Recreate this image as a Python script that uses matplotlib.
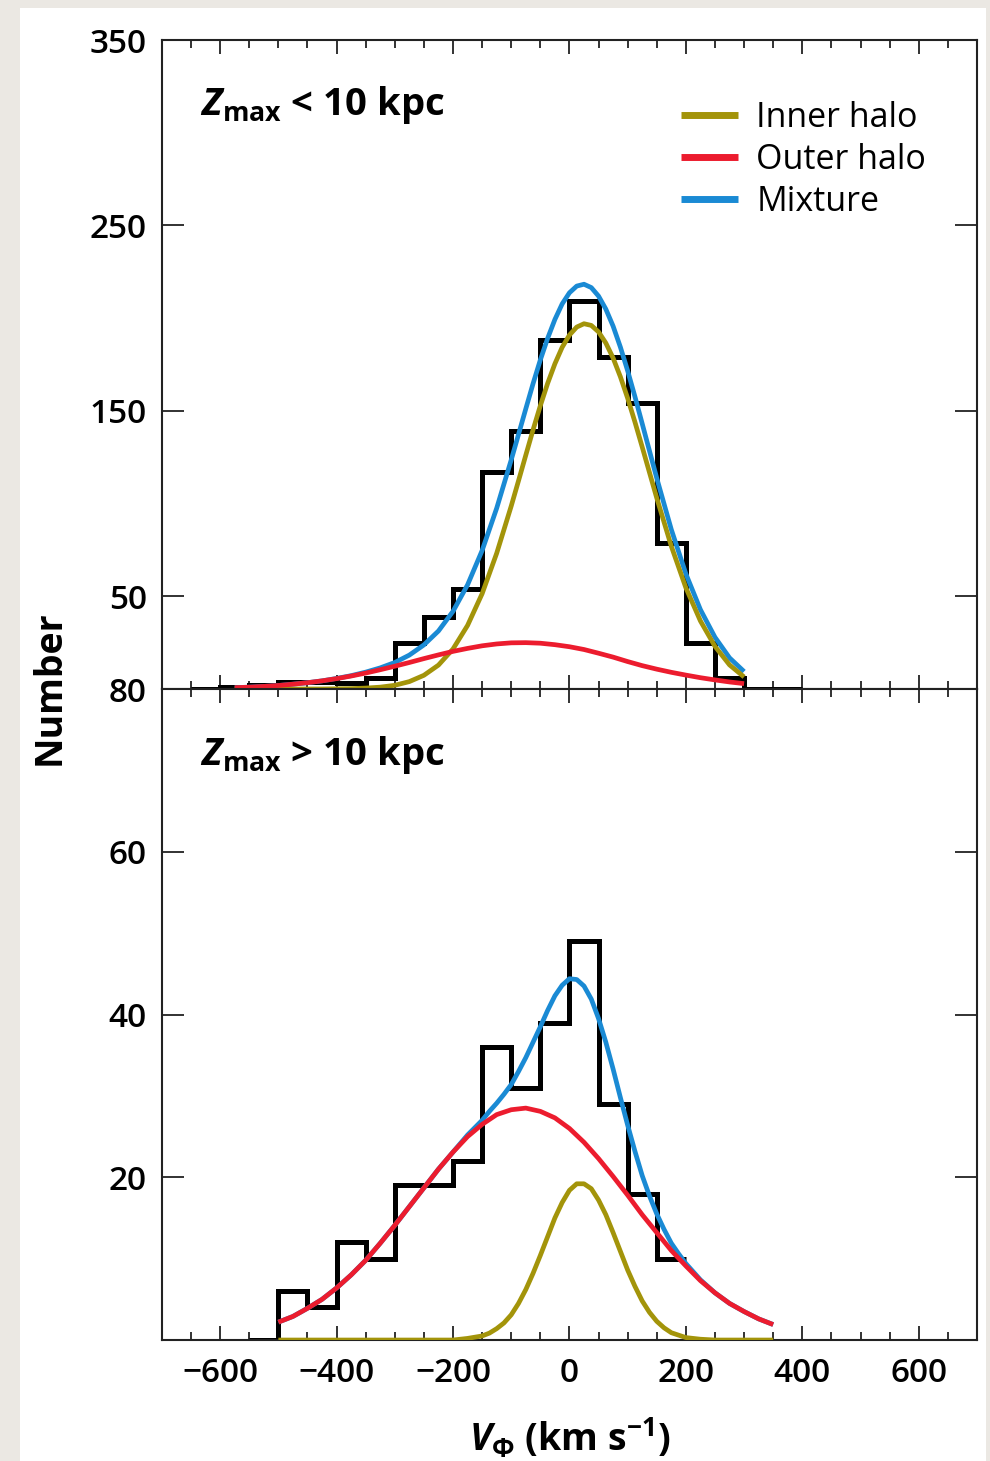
import numpy as np
import matplotlib
matplotlib.use('Agg')
import matplotlib.pyplot as plt
from matplotlib.patches import Rectangle
from matplotlib.ticker import MultipleLocator

# Fuentes
plt.rcParams['font.family'] = ['Open Sans', 'DejaVu Sans']
plt.rcParams['mathtext.fontset'] = 'custom'
plt.rcParams['mathtext.rm'] = 'Open Sans'
plt.rcParams['mathtext.it'] = 'Open Sans:italic'
plt.rcParams['mathtext.bf'] = 'Open Sans:bold'
plt.rcParams['mathtext.bfit'] = 'Open Sans:italic:bold'

# Histograma Zmax < 10 kpc (bordes y cuentas)
bordes_sup = np.arange(-650, 401, 50)
cuentas_sup = [0, 1, 2, 4, 4, 3, 6, 25, 39, 54, 117, 139, 188, 209, 179, 154, 79, 25, 6, 0, 0]

# Histograma Zmax > 10 kpc
bordes_inf = np.arange(-550, 201, 50)
cuentas_inf = [0, 6, 4, 12, 10, 19, 19, 22, 36, 31, 39, 49, 29, 18, 10]

# Halo externo, panel superior (cada 25 km/s)
v_sup = np.arange(-575, 301, 25)
outer_sup = [0.7, 1.0, 1.4, 1.9, 2.6, 3.4, 4.4, 5.6, 7.0, 8.6, 10.4, 12.3, 14.3, 16.4, 18.4, 20.3,
             21.9, 23.3, 24.3, 24.9, 25.0, 24.7, 23.9, 22.8, 21.3, 19.3, 17.2, 14.8, 12.6, 10.7,
             9.0, 7.5, 6.1, 4.9, 3.8, 2.9]

# Halo interno y mezcla, panel superior (mas puntos cerca del pico)
v_sup_fino = np.concatenate([np.arange(-575, -100, 25), np.arange(-100, 125, 12.5),
                             np.arange(125, 301, 25)])
inner_sup = [0, 0, 0, 0, 0, 0, 0, 0.1, 0.2, 0.5, 1.0, 2.0, 4.0, 7.4, 12.9, 21.6, 34.3, 51.4, 73.2,
             98.7, 112.3, 126.1, 139.8, 152.8, 164.8, 175.4, 184.3, 190.9, 195.2, 197.0, 196.1,
             192.6, 186.6, 178.5, 168.4, 156.8, 144.0,
             130.5, 103.0, 77.0, 54.6, 36.7, 23.0, 13.0, 6.5]
mezcla_sup = [0.7, 1.0, 1.4, 1.9, 2.6, 3.4, 4.4, 5.7, 7.2, 9.1, 11.4, 14.3, 18.3, 23.8, 31.3, 41.9,
              56.2, 74.7, 97.5,
              123.6, 137.3, 151.1, 164.7, 177.5, 189.1, 199.3, 207.7, 213.7, 217.3, 218.3, 216.5,
              211.9, 204.9, 195.7, 184.4, 171.6, 157.7,
              143.1, 113.7, 86.0, 62.1, 42.8, 27.9, 16.8, 9.4]

# Halo externo, panel inferior (cada 25 km/s)
v_inf = np.arange(-500, 351, 25)
outer_inf = [2.2, 2.9, 3.9, 5.0, 6.4, 8.0, 9.8, 11.9, 14.1, 16.4, 18.7, 21.0, 23.1, 25.0, 26.5,
             27.7, 28.3, 28.5, 28.1, 27.3, 26.0, 24.3, 22.3, 20.1, 17.8, 15.4, 13.2, 11.0, 9.1,
             7.3, 5.8, 4.5, 3.5, 2.6, 1.9]

# Halo interno y mezcla, panel inferior (mas puntos cerca del pico)
v_inf_fino = np.concatenate([np.arange(-500, -150, 25), np.arange(-150, 212.5, 12.5),
                             np.arange(225, 351, 25)])
inner_inf = [0, 0, 0, 0, 0, 0, 0, 0, 0, 0, 0, 0, 0.0, 0.2,
             0.5, 0.85, 1.4, 2.1, 3.1, 4.5, 6.2, 8.2, 10.4, 12.7, 15.0, 16.9, 18.4, 19.2, 19.2,
             18.6, 17.2, 15.4, 13.2, 10.9, 8.6, 6.6, 4.8, 3.4, 2.3, 1.5, 0.9, 0.6, 0.3,
             0.1, 0, 0, 0, 0, 0]
mezcla_inf = [2.2, 2.9, 3.9, 5.0, 6.4, 8.0, 9.8, 11.9, 14.1, 16.4, 18.7, 21.0, 23.1, 25.2,
              27.0, 28.1, 29.1, 30.2, 31.4, 33.0, 34.7, 36.6, 38.5, 40.5, 42.3, 43.6, 44.4, 44.3,
              43.5, 41.9, 39.5, 36.6, 33.3, 29.8, 26.4, 23.2, 20.2, 17.7, 15.5, 13.6, 11.9, 10.6,
              9.4, 7.4, 5.8, 4.5, 3.5, 2.6, 1.9]

c_inner = '#a3940a'
c_outer = '#ec1c2e'
c_mezcla = '#1a8ad4'
estilo = dict(lw=3.4, solid_joinstyle='round', solid_capstyle='butt')

fig = plt.figure(figsize=(9.9, 14.61), dpi=100, facecolor='#ebe8e3')
# Fondo blanco de la figura
fig.patches.append(Rectangle((20 / 990, 0), 966 / 990, 1 - 8 / 1461, transform=fig.transFigure,
                             facecolor='white', edgecolor='none', zorder=-10))

ax1 = fig.add_axes([0.1636, 0.5284, 0.8232, 0.4442])
ax2 = fig.add_axes([0.1636, 0.0828, 0.8232, 0.4456])

# Panel superior
ax1.stairs(cuentas_sup, bordes_sup, baseline=None, color='black', lw=3.6, zorder=2)
ax1.plot(v_sup_fino, mezcla_sup, color=c_mezcla, zorder=3, label='Mixture', **estilo)
ax1.plot(v_sup_fino, inner_sup, color=c_inner, zorder=4, label='Inner halo', **estilo)
ax1.plot(v_sup, outer_sup, color=c_outer, zorder=5, label='Outer halo', **estilo)
ax1.set_ylim(0, 350)
ax1.set_yticks([50, 150, 250, 350])

# Panel inferior
ax2.stairs(cuentas_inf, bordes_inf, baseline=None, color='black', lw=3.6, zorder=2)
ax2.plot(v_inf_fino, mezcla_inf, color=c_mezcla, zorder=3, **estilo)
ax2.plot(v_inf_fino, inner_inf, color=c_inner, zorder=4, **estilo)
ax2.plot(v_inf, outer_inf, color=c_outer, zorder=5, **estilo)
ax2.set_ylim(0, 80)
ax2.set_yticks([20, 40, 60, 80])

for ax in (ax1, ax2):
    ax.set_xlim(-700, 700)
    ax.xaxis.set_major_locator(MultipleLocator(200))
    ax.xaxis.set_minor_locator(MultipleLocator(50))
    ax.tick_params(axis='x', which='major', direction='in', top=True, bottom=True,
                   length=10, width=1.3, color='#222222')
    ax.tick_params(axis='x', which='minor', direction='in', top=True, bottom=True,
                   length=6, width=1.3, color='#222222')
    ax.tick_params(axis='y', which='major', direction='in', left=True, right=True,
                   length=16, width=1.3, color='#222222', labelsize=24, pad=11)
    for s in ax.spines.values():
        s.set_linewidth(1.5)
        s.set_color('#222222')
    for t in ax.get_yticklabels() + ax.get_xticklabels():
        t.set_fontweight('semibold')

ax1.tick_params(axis='x', labelbottom=False)
ax2.tick_params(axis='x', labelsize=24, pad=12)

# Etiquetas de los paneles
ax1.text(0.047, 0.884, r'$\mathbfit{Z}_{\mathbf{max}}$ < 10 kpc', transform=ax1.transAxes,
         fontsize=27.5, fontweight='bold', va='baseline', ha='left')
ax2.text(0.047, 0.883, r'$\mathbfit{Z}_{\mathbf{max}}$ > 10 kpc', transform=ax2.transAxes,
         fontsize=27.5, fontweight='bold', va='baseline', ha='left')

# Leyenda
h, l = ax1.get_legend_handles_labels()
orden = [1, 2, 0]
ax1.legend([h[i] for i in orden], [l[i] for i in orden], loc='upper left',
           bbox_to_anchor=(0.637, 0.906), frameon=False, fontsize=24.5,
           handlelength=1.68, handletextpad=0.53, labelspacing=0.23, borderpad=0,
           borderaxespad=0)
for linea in ax1.get_legend().get_lines():
    linea.set_linewidth(5)

ax2.set_xlabel(r'$\mathbfit{V}_{\mathbf{\Phi}}$ (km s$^{\mathbf{-1}}$)', fontsize=27,
               fontweight='bold', labelpad=19)
fig.text(0.05, 0.529, 'Number', rotation=90, fontsize=27, fontweight='bold',
         ha='center', va='center')

fig.savefig('out.png', dpi=100, facecolor=fig.get_facecolor())
